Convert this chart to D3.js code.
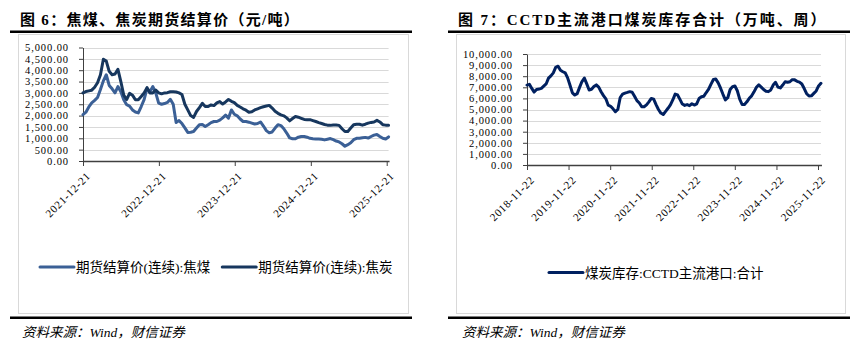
<!DOCTYPE html>
<html><head><meta charset="utf-8">
<script src="https://cdn.jsdelivr.net/npm/d3@7"></script>
<style>body{margin:0;background:#fff}svg{display:block}</style>
</head><body>
<svg id="c" width="855" height="349"></svg>
<script>
// ---------- Figure 6 data (biweekly, from 2021-12-21) ----------
const leftTitle = "图 6：焦煤、焦炭期货结算价（元/吨）";
const leftStart = "2021-12-21";
const leftStepDays = 14;
const leftTickLabels = ["2021-12-21","2022-12-21","2023-12-21","2024-12-21","2025-12-21"];
const leftSeriesNames = ["期货结算价(连续):焦煤","期货结算价(连续):焦炭"];
const cokingCoal = [2040,2150,2380,2560,2670,2800,3150,3530,3800,3330,3180,3000,3280,3050,2700,2480,2420,2250,2160,2120,
  2400,2700,3200,3050,3280,3000,2550,2500,2530,2580,2720,2500,1700,1780,1650,1460,1260,1270,1300,1450,
  1600,1610,1520,1600,1690,1740,1740,1800,1900,2020,1890,2250,2060,1990,1850,1740,1740,1710,1670,1630,
  1650,1720,1540,1340,1240,1280,1450,1600,1560,1420,1230,1020,980,980,1050,1080,1080,1050,1000,980,
  970,970,960,930,960,990,940,880,840,760,650,720,800,940,1000,1000,1020,1040,1010,1080,
  1140,1170,1080,1000,970,1060];
const coke = [3000,3060,3090,3120,3250,3450,3800,4480,4400,3950,3800,3830,4040,3500,2900,2710,2980,2900,2700,2700,
  2840,3000,3230,3000,3000,3120,3000,2960,3000,3010,3050,3050,3040,3000,2930,2500,2250,2000,1920,2180,
  2350,2540,2400,2400,2470,2440,2560,2620,2510,2600,2710,2630,2570,2450,2380,2300,2240,2150,2170,2250,
  2300,2350,2390,2420,2450,2330,2190,2100,2030,1990,1900,1770,1870,1960,1930,1880,1830,1820,1820,1780,
  1740,1690,1650,1610,1580,1570,1590,1590,1570,1420,1300,1300,1450,1600,1620,1620,1580,1620,1670,1700,
  1720,1790,1720,1600,1580,1570];

// ---------- Figure 7 data (every 3 weeks, from 2018-11-22) ----------
const rightTitle = "图 7：CCTD主流港口煤炭库存合计（万吨、周）";
const rightStart = "2018-11-22";
const rightStepDays = 21;
const rightTickLabels = ["2018-11-22","2019-11-22","2020-11-22","2021-11-22","2022-11-22","2023-11-22","2024-11-22","2025-11-22"];
const rightSeriesNames = ["煤炭库存:CCTD主流港口:合计"];
const inventory = [7200,7270,6900,6570,6800,6840,6900,7100,7300,7820,8030,8300,8800,8900,8530,8400,8300,7850,7180,6500,
  6300,6430,6990,7520,7830,7310,6760,6820,7070,7220,7020,6600,6250,5960,5390,5290,5060,4800,5000,6080,
  6390,6480,6540,6610,6560,6200,5800,5590,5250,5250,5420,5690,6000,5930,5440,5000,4680,4550,4830,5110,
  5410,5860,6390,6310,5910,5490,5370,5440,5350,5520,5400,5510,5990,6150,6200,6530,6830,7290,7700,7740,
  7400,6920,6370,5870,6060,6800,7060,7120,6690,5930,5450,5450,5690,6010,6230,6590,7000,7230,7020,6800,
  6640,6610,6760,7200,7450,7020,6940,7200,7500,7450,7500,7690,7670,7540,7470,7300,6890,6420,6220,6230,
  6450,6670,7120,7360];
const source = "资料来源：Wind，财信证券";

// ---------- drawing ----------
const svg = d3.select("#c");
const parse = d3.timeParse("%Y-%m-%d");
const fmtY = d3.format(",.2f");
const latinCJK = "'Liberation Serif','Noto Sans CJK SC',serif";

function panel(cfg) {
  const g = svg.append("g");
  // title
  g.append("text").attr("x", cfg.titleX).attr("y", 25)
    .attr("font-family", latinCJK).attr("font-weight", "bold")
    .attr("font-size", 15).attr("letter-spacing", cfg.titleSpacing)
    .text(cfg.title);
  // rules
  g.append("rect").attr("x", cfg.ruleX0).attr("y", 30.5).attr("width", cfg.ruleX1 - cfg.ruleX0).attr("height", 2.5).attr("fill", "#000");
  g.append("rect").attr("x", cfg.ruleX0).attr("y", 316.5).attr("width", cfg.ruleX1 - cfg.ruleX0).attr("height", 2.5).attr("fill", "#000");
  // frame
  g.append("rect").attr("x", cfg.frameX0 + 0.5).attr("y", 34.5)
    .attr("width", cfg.frameX1 - cfg.frameX0).attr("height", 279)
    .attr("fill", "#fff").attr("stroke", "#d9d9d9");
  // source
  g.append("text").attr("x", cfg.sourceX).attr("y", 337)
    .attr("font-family", "'Liberation Serif','Noto Sans CJK SC',serif")
    .attr("font-style", "italic").attr("font-size", 13.5).text(source);

  const start = parse(cfg.start);
  const dates = cfg.series[0].values.map((_, i) => d3.timeDay.offset(start, i * cfg.step));
  const ticks = cfg.ticks.map(parse);
  const x = d3.scaleTime().domain([ticks[0], ticks[ticks.length - 1]]).range([cfg.x0, cfg.x1]);
  const y = d3.scaleLinear().domain([0, cfg.yMax]).range([cfg.yBottom, cfg.yTop]);
  const xEnd = x(dates[dates.length - 1]);
  const yTicks = d3.range(0, cfg.yMax + 1, cfg.yStep);

  // grid
  g.append("g").selectAll("line").data(yTicks.slice(1)).join("line")
    .attr("x1", cfg.x0).attr("x2", xEnd)
    .attr("y1", d => Math.round(y(d)) + 0.5).attr("y2", d => Math.round(y(d)) + 0.5)
    .attr("stroke", "#d9d9d9").attr("stroke-width", 1.2);

  // y axis
  const ya = g.append("g").attr("transform", `translate(${cfg.x0},0)`)
    .call(d3.axisLeft(y).tickValues(yTicks).tickSize(4).tickSizeOuter(0).tickPadding(10).tickFormat(fmtY));
  ya.select(".domain").attr("stroke", "#404040");
  ya.selectAll(".tick line").attr("stroke", "#404040");
  ya.selectAll("text").attr("font-family", "'Liberation Serif',serif").attr("font-size", 10.5)
    .attr("letter-spacing", 0.9).attr("fill", "#000");

  // lines
  cfg.series.forEach(s => {
    g.append("path").datum(s.values)
      .attr("fill", "none").attr("stroke", s.color).attr("stroke-width", 3)
      .attr("stroke-linejoin", "round").attr("stroke-linecap", "round")
      .attr("d", d3.line().x((d, i) => x(dates[i])).y(d => y(d)));
  });

  // x axis
  const xa = g.append("g").attr("transform", `translate(0,${cfg.yBottom})`)
    .call(d3.axisBottom(x).tickValues(ticks).tickSize(5).tickSizeOuter(0)
      .tickFormat(d3.timeFormat("%Y-%m-%d")));
  xa.select(".domain").attr("d", `M${cfg.x0},0.5H${Math.max(xEnd, cfg.x1) + 1}`).attr("stroke", "#404040").attr("stroke-width", 1.3);
  xa.selectAll(".tick line").attr("stroke", "#404040");
  xa.selectAll("text").attr("font-family", "'Liberation Serif',serif").attr("font-size", 11)
    .attr("letter-spacing", 0.7).attr("fill", "#000")
    .attr("text-anchor", "end").attr("y", 0).attr("dy", "0.35em")
    .attr("transform", "translate(5,13) rotate(-45)");

  // legend
  let lx = cfg.legendX;
  cfg.series.forEach(s => {
    g.append("line").attr("x1", lx).attr("x2", lx + 34).attr("y1", cfg.legendY).attr("y2", cfg.legendY)
      .attr("stroke", s.color).attr("stroke-width", 3).attr("stroke-linecap", "round");
    const t = g.append("text").attr("x", lx + 36).attr("y", cfg.legendY + 5)
      .attr("font-family", "'Liberation Serif','Noto Sans CJK SC',sans-serif")
      .attr("font-size", 13.5).text(s.name);
    lx += 36 + t.node().getComputedTextLength() + cfg.legendGap;
  });
}

panel({
  title: leftTitle, titleX: 20, titleSpacing: 1.3,
  ruleX0: 10, ruleX1: 412, frameX0: 18, frameX1: 408, sourceX: 22,
  start: leftStart, step: leftStepDays, ticks: leftTickLabels,
  x0: 83, x1: 386.7, yTop: 47.5, yBottom: 161, yMax: 5000, yStep: 500,
  series: [
    {name: leftSeriesNames[0], values: cokingCoal, color: "#3B6096"},
    {name: leftSeriesNames[1], values: coke, color: "#17375E"}
  ],
  legendX: 40, legendY: 267, legendGap: 12
});

panel({
  title: rightTitle, titleX: 458, titleSpacing: 1.9,
  ruleX0: 448, ruleX1: 850, frameX0: 456, frameX1: 845, sourceX: 462,
  start: rightStart, step: rightStepDays, ticks: rightTickLabels,
  x0: 527, x1: 818, yTop: 54, yBottom: 165, yMax: 10000, yStep: 1000,
  series: [
    {name: rightSeriesNames[0], values: inventory, color: "#002060"}
  ],
  legendX: 549, legendY: 272.5, legendGap: 12
});
</script>
</body></html>
